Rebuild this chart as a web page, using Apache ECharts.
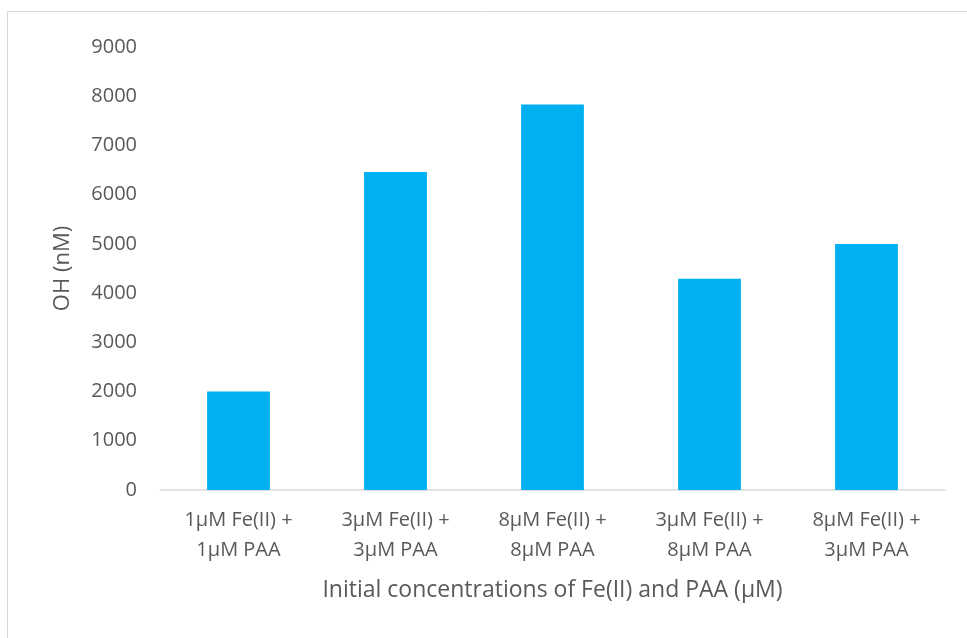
<!DOCTYPE html>
<html>
<head>
<meta charset="utf-8">
<script src="https://cdn.jsdelivr.net/npm/echarts@6/dist/echarts.min.js"></script>
<style>
  html, body { margin: 0; padding: 0; background: #fff; }
  #chart { width: 967px; height: 638px; }
</style>
</head>
<body>
<div id="chart"></div>
<script>
// Hydroxyl radical yield for each Fe(II) / PAA dosing combination
const categories = [
  '1μM Fe(II) +\n1μM PAA',
  '3μM Fe(II) +\n3μM PAA',
  '8μM Fe(II) +\n8μM PAA',
  '3μM Fe(II) +\n8μM PAA',
  '8μM Fe(II) +\n3μM PAA'
];
const ohValues = [2000, 6460, 7830, 4290, 5000];
const yTicks = { min: 0, max: 9000, interval: 1000 };

const FONT = '"Open Sans", sans-serif';
const TEXT = '#595959';

const chart = echarts.init(document.getElementById('chart'), null, { renderer: 'canvas' });
chart.setOption({
  animation: false,
  backgroundColor: '#ffffff',
  // chart-area frame, open towards the right and bottom edges
  graphic: [{
    type: 'rect',
    shape: { x: 7.5, y: 11.5, width: 1000, height: 700 },
    style: { fill: 'none', stroke: '#d9d9d9', lineWidth: 1 },
    silent: true
  }],
  grid: { left: 160, right: 22, top: 47, bottom: 148, containLabel: false },
  xAxis: {
    type: 'category',
    data: categories,
    axisLine: { show: true, lineStyle: { color: '#d9d9d9', width: 1.5 } },
    axisTick: { show: false },
    axisLabel: {
      color: TEXT, fontFamily: FONT, fontSize: 20, lineHeight: 30,
      margin: 15, interval: 0
    },
    name: 'Initial concentrations of Fe(II) and PAA (μM)',
    nameLocation: 'middle',
    nameGap: 89,
    nameTextStyle: { color: TEXT, fontFamily: FONT, fontSize: 23 }
  },
  yAxis: {
    type: 'value',
    min: yTicks.min, max: yTicks.max, interval: yTicks.interval,
    axisLine: { show: false },
    axisTick: { show: false },
    splitLine: { show: false },
    axisLabel: {
      color: TEXT, fontFamily: FONT, fontSize: 20, margin: 23,
      formatter: v => String(v)
    },
    name: 'OH (nM)',
    nameLocation: 'middle',
    nameGap: 86,
    nameTextStyle: { color: TEXT, fontFamily: FONT, fontSize: 22 }
  },
  series: [{
    type: 'bar',
    data: ohValues,
    barWidth: '40%',
    itemStyle: { color: '#00b0f0' }
  }]
});
</script>
</body>
</html>
